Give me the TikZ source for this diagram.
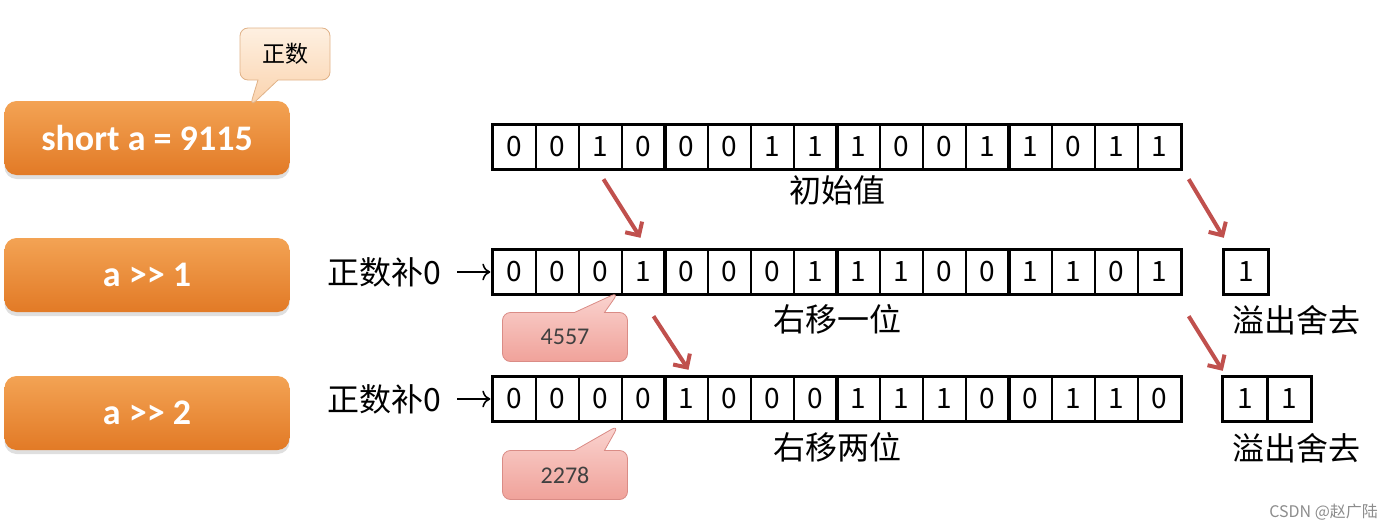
\documentclass[tikz,border=0pt]{standalone}
\usepackage{fontspec}
\setmainfont{Carlito}
\newfontfamily\cjk{Noto Sans CJK SC}
\usetikzlibrary{positioning}
\usetikzlibrary{arrows.meta}
\usetikzlibrary{shapes.callouts}
\usetikzlibrary{shadows}
\definecolor{arrowred}{RGB}{192,80,77}
\definecolor{orangetop}{RGB}{243,163,84}
\definecolor{orangebot}{RGB}{226,122,38}
\definecolor{pinktop}{RGB}{250,212,208}
\definecolor{pinkbot}{RGB}{240,162,154}
\definecolor{pinkline}{RGB}{218,140,134}
\definecolor{peachtop}{RGB}{254,240,225}
\definecolor{peachbot}{RGB}{250,210,172}
\definecolor{peachline}{RGB}{224,178,136}
\tikzset{bit/.style = {draw, line width=0.7pt, minimum width=21.5pt,
                       minimum height=21.5pt, inner sep=0,
                       font=\cjk\fontsize{14}{14}\selectfont}}
\tikzset{frame/.style = {line width=1.6pt}}
\tikzset{opbox/.style = {rounded corners=6pt, top color=orangetop,
                         bottom color=orangebot, minimum width=142.5pt,
                         minimum height=37pt, text=white,
                         font=\bfseries\fontsize{18}{18}\selectfont,
                         drop shadow={shadow xshift=0pt, shadow yshift=-2pt,
                                      opacity=0.25}}}
\tikzset{cjklabel/.style = {inner sep=1pt, font=\cjk\fontsize{16}{16}\selectfont}}
\tikzset{shiftarrow/.style = {draw=arrowred, line width=2pt,
                              -{Straight Barb[length=5pt, width=10pt]}}}
\tikzset{fillarrow/.style = {draw, line width=0.8pt, -{To[length=4pt]},
                             shorten <=7pt, shorten >=1pt}}
\tikzset{valnote/.style = {rectangle callout, draw=pinkline, top color=pinktop,
                           bottom color=pinkbot, rounded corners=4pt,
                           callout pointer width=15pt,
                           minimum width=62.5pt, minimum height=24.5pt,
                           text=black!75, font=\fontsize{12}{12}\selectfont}}
\tikzset{signnote/.style = {rectangle callout, draw=peachline, top color=peachtop,
                            bottom color=peachbot, rounded corners=4pt,
                            callout pointer width=10pt,
                            minimum width=45pt, minimum height=26pt,
                            font=\cjk\fontsize{11.5}{11.5}\selectfont}}

\begin{document}
\begin{tikzpicture}[x=0.5pt, y=-0.5pt]
  \useasboundingbox (0,0) rectangle (1389,530);
  % operations on the left
  \node[opbox] (op0) at (147,138) {short a = 9115};
  \node[opbox] (op1) at (147,275) {a >{}> 1};
  \node[opbox] (op2) at (147,413) {a >{}> 2};
  \node[signnote, callout absolute pointer={([xshift=-20pt,yshift=-3pt]op0.north east)}]
    (sign) at (285,54) {正数};

  % bit rows
  \foreach \b [count=\i] in {0,0,1,0,0,0,1,1,1,0,0,1,1,0,1,1}
    \node[bit] (a0-\i) at ({493+43*(\i-0.5)},147) {\b};
  \foreach \b [count=\i] in {0,0,0,1,0,0,0,1,1,1,0,0,1,1,0,1}
    \node[bit] (a1-\i) at ({493+43*(\i-0.5)},272) {\b};
  \foreach \b [count=\i] in {0,0,0,0,1,0,0,0,1,1,1,0,0,1,1,0}
    \node[bit] (a2-\i) at ({493+43*(\i-0.5)},399) {\b};
  \foreach \r in {a0,a1,a2}
    \foreach \g/\e in {1/4,5/8,9/12,13/16}
      \draw[frame] (\r-\g.north west) rectangle (\r-\e.south east);

  % bits shifted out
  \node[bit] (o1-1) at (1246,272) {1};
  \draw[frame] (o1-1.north west) rectangle (o1-1.south east);
  \node[bit] (o2-1) at (1245,399) {1};
  \node[bit, right=0pt of o2-1] (o2-2) {1};
  \draw[frame] (o2-1.north west) rectangle (o2-2.south east);

  % captions
  \node[cjklabel, below=2pt of a0-8.south east] (l0) {初始值};
  \node[cjklabel, below=4pt of a1-8.south east] (l1) {右移一位};
  \node[cjklabel, below=4.5pt of a2-8.south east] (l2) {右移两位};
  \node[cjklabel] (ov1) at (1296,320) {溢出舍去};
  \node[cjklabel] (ov2) at (1296,448) {溢出舍去};

  % zero fill
  \node[cjklabel] (z1) at (384,272) {正数补0};
  \node[cjklabel] (z2) at (384,399) {正数补0};
  \draw[fillarrow] (z1) -- (a1-1);
  \draw[fillarrow] (z2) -- (a2-1);

  % shift arrows
  \draw[shiftarrow] ([xshift=1.5pt,yshift=-5pt]a0-3.south)
    -- ([xshift=-1.5pt,yshift=6pt]a1-4.north);
  \draw[shiftarrow] ([xshift=3.5pt,yshift=-5pt]a0-16.south east)
    -- ([yshift=6pt]o1-1.north west);
  \draw[shiftarrow] ([xshift=5pt,yshift=-11pt]a1-4.south)
    -- ([xshift=1pt,yshift=3.5pt]a2-5.north);
  \draw[shiftarrow] ([xshift=3.5pt,yshift=-11pt]a1-16.south east)
    -- ([yshift=3pt]o2-1.north west);

  % values
  \node[valnote, callout absolute pointer={([xshift=-2pt,yshift=1pt]a1-3.south east)}]
    (v1) at (565,337) {4557};
  \node[valnote, callout absolute pointer={([xshift=-2pt,yshift=-2pt]a2-3.south east)}]
    (v2) at (565,475) {2278};

  \node[anchor=east, text=black!45, font=\cjk\fontsize{8}{8}\selectfont]
    (mark) at (1385,512) {CSDN @赵广陆};
\end{tikzpicture}
\end{document}
